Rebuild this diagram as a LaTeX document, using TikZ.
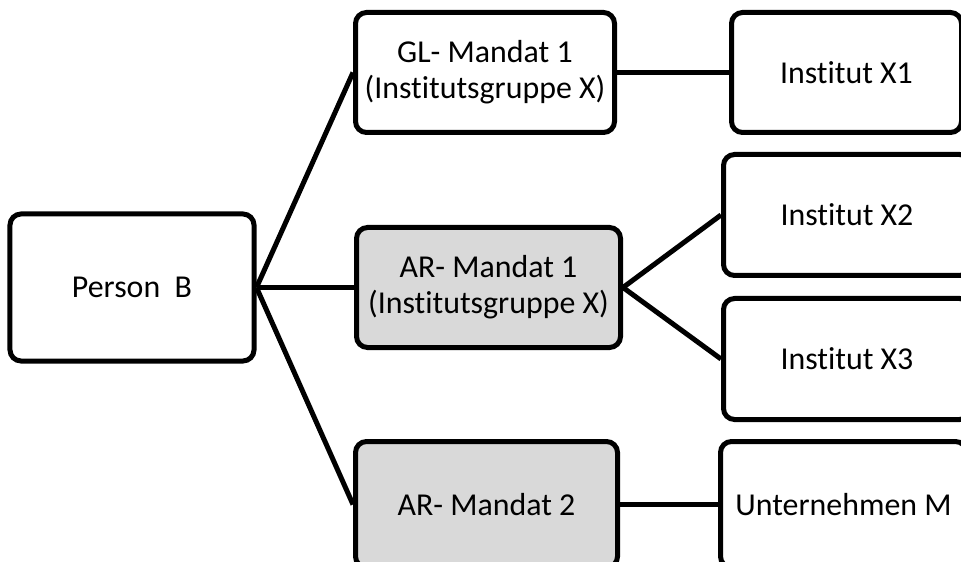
\documentclass[tikz,border=0pt]{standalone}
\usepackage{fontspec}
\setmainfont{Carlito}[Ligatures={NoCommon}]
\definecolor{boxgray}{HTML}{D9D9D9}
\begin{document}
\begin{tikzpicture}[x=1bp,y=-1bp,
  box/.style={draw=black, line width=5bp, rounded corners=11bp, fill=white,
    inner sep=0pt, align=center, font=\fontsize{32}{36}\selectfont},
  grey/.style={box, fill=boxgray},
  link/.style={draw=black, line width=5bp}]
\useasboundingbox (0,0) rectangle (961,562);
\clip (0,0) rectangle (961,562);
\node[box, minimum width=244bp, minimum height=147bp] (P) at (132,287.5) {Person~ B};
\node[box, minimum width=259bp, minimum height=120bp] (GL) at (485,72.5) {GL- Mandat 1\\(Institutsgruppe X)};
\node[grey, minimum width=264bp, minimum height=120bp] (AR1) at (488.5,287.5) {AR- Mandat 1\\(Institutsgruppe X)};
\node[grey, minimum width=262bp, minimum height=126bp] (AR2) at (486.5,504.5) {AR- Mandat 2};
\node[box, minimum width=230bp, minimum height=120bp] (X1) at (846.5,72.5) {Institut X1};
\node[box, minimum width=247bp, minimum height=121bp] (X2) at (847,215) {Institut X2};
\node[box, minimum width=247bp, minimum height=121bp] (X3) at (847,359) {Institut X3};
\node[box, minimum width=246bp, minimum height=126bp] (UM) at (843.5,504.5) {Unternehmen M};
\draw[link] (P.east) -- (GL.west);
\draw[link] (P.east) -- (AR1.west);
\draw[link] (P.east) -- (AR2.west);
\draw[link] (GL.east) -- (X1.west);
\draw[link] (AR1.east) -- (X2.west);
\draw[link] (AR1.east) -- (X3.west);
\draw[link] (AR2.east) -- (UM.west);
\end{tikzpicture}
\end{document}
